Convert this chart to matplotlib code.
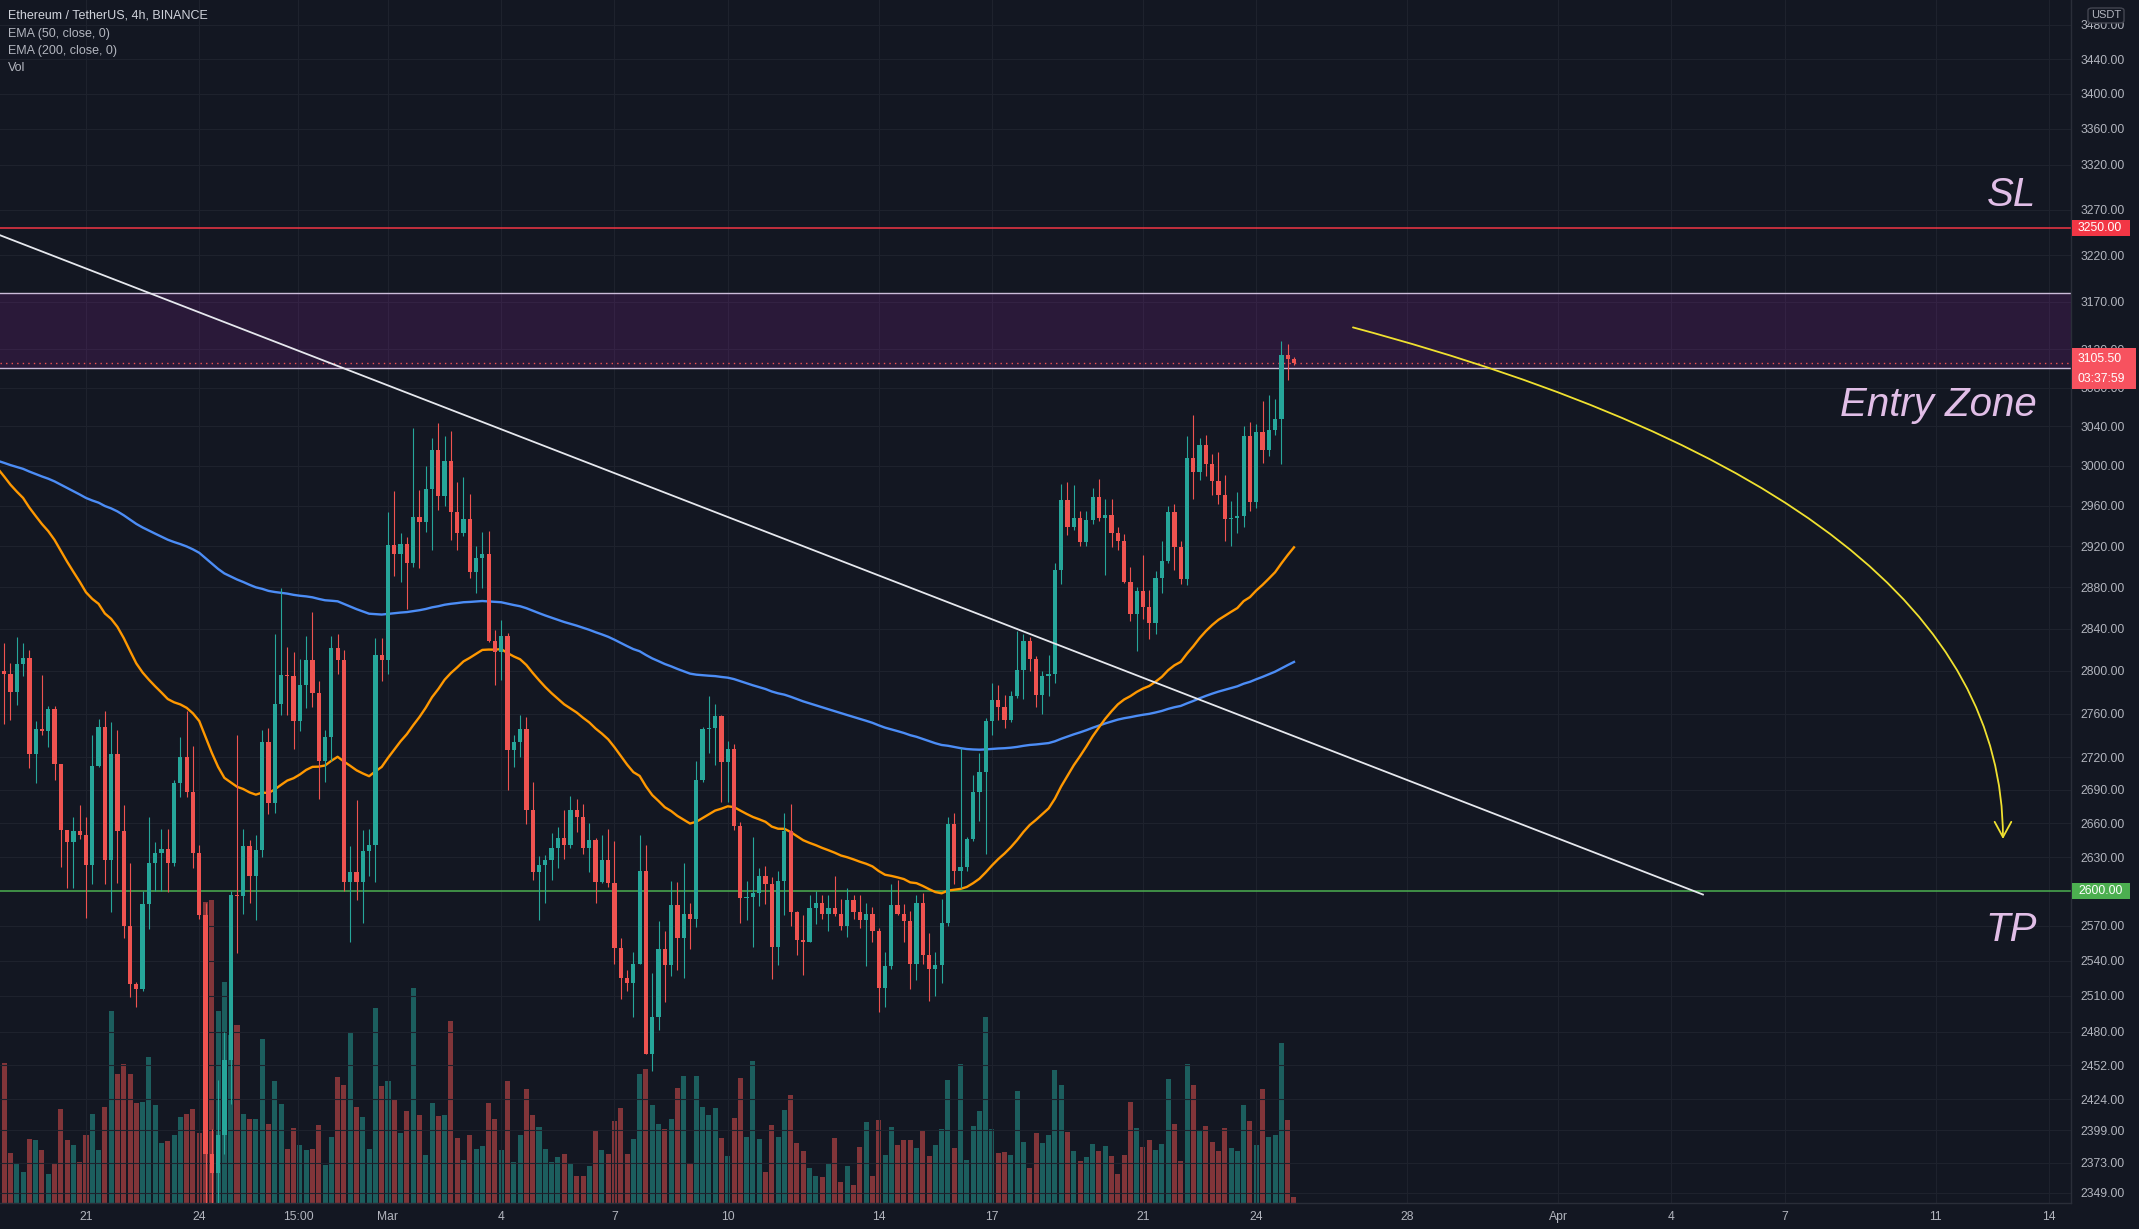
import numpy as np
import pandas as pd
import matplotlib
matplotlib.use("Agg")
import matplotlib.pyplot as plt
import matplotlib.dates as mdates
from matplotlib.patches import Rectangle, FancyBboxPatch
from matplotlib.ticker import FixedLocator, NullLocator, FuncFormatter, NullFormatter

# ── ETHUSDT 4h, Binance ─────────────────────────────────────────────────────
first_bar = "2022-02-18 16:00"
first_open = 2879

close = [
    2800, 2797, 2780, 2806, 2812, 2723, 2746, 2744, 2764, 2714,
    2654, 2643, 2653, 2650, 2623, 2712, 2748, 2627, 2723, 2653,
    2570, 2520, 2516, 2589, 2625, 2634, 2637, 2625, 2696, 2720,
    2688, 2634, 2579, 2380, 2365, 2395, 2456, 2597, 2596, 2640,
    2613, 2636, 2734, 2678, 2769, 2796, 2795, 2753, 2787, 2810,
    2779, 2716, 2738, 2822, 2810, 2608, 2617, 2608, 2635, 2641,
    2815, 2810, 2921, 2912, 2922, 2903, 2949, 2944, 2977, 3016,
    2970, 3005, 2954, 2933, 2947, 2895, 2908, 2912, 2828, 2818,
    2833, 2726, 2734, 2746, 2672, 2617, 2623, 2627, 2638, 2647,
    2641, 2672, 2666, 2638, 2645, 2608, 2627, 2607, 2551, 2525,
    2521, 2537, 2618, 2461, 2492, 2550, 2536, 2588, 2559, 2580,
    2576, 2699, 2746, 2747, 2758, 2715, 2727, 2658, 2594, 2595,
    2598, 2613, 2606, 2552, 2609, 2653, 2582, 2558, 2556, 2585,
    2590, 2580, 2585, 2580, 2570, 2592, 2582, 2575, 2580, 2565,
    2517, 2535, 2588, 2580, 2574, 2537, 2590, 2545, 2533, 2536,
    2572, 2659, 2618, 2621, 2646, 2688, 2706, 2753, 2773, 2766,
    2754, 2776, 2801, 2828, 2811, 2777, 2795, 2797, 2897, 2966,
    2939, 2948, 2924, 2946, 2969, 2948, 2951, 2933, 2925, 2885,
    2854, 2876, 2861, 2845, 2889, 2905, 2954, 2919, 2888, 3008,
    2994, 3021, 3002, 2985, 2971, 2947, 2948, 2950, 3030, 2964,
    3034, 3016, 3036, 3048, 3114, 3110, 3105.5,
]

high = [
    2885, 2826, 2807, 2832, 2826, 2820, 2753, 2796, 2767, 2767,
    2714, 2654, 2666, 2676, 2666, 2740, 2755, 2762, 2752, 2745,
    2676, 2625, 2522, 2600, 2666, 2643, 2655, 2655, 2699, 2738,
    2762, 2730, 2641, 2590, 2400, 2440, 2480, 2600, 2740, 2655,
    2645, 2650, 2745, 2747, 2835, 2879, 2823, 2818, 2811, 2833,
    2856, 2790, 2745, 2833, 2835, 2820, 2640, 2681, 2654, 2655,
    2831, 2831, 2954, 2975, 2933, 2929, 3038, 2976, 3000, 3028,
    3044, 3030, 3035, 2984, 2989, 2972, 2920, 2934, 2935, 2839,
    2848, 2836, 2740, 2759, 2757, 2697, 2631, 2632, 2651, 2657,
    2672, 2685, 2682, 2677, 2660, 2647, 2650, 2655, 2644, 2559,
    2532, 2547, 2650, 2641, 2529, 2574, 2565, 2609, 2608, 2625,
    2590, 2716, 2748, 2776, 2769, 2759, 2735, 2732, 2661, 2609,
    2648, 2620, 2622, 2612, 2618, 2669, 2677, 2583, 2579, 2597,
    2600, 2597, 2597, 2613, 2593, 2603, 2597, 2597, 2590, 2586,
    2568, 2547, 2606, 2610, 2589, 2583, 2597, 2598, 2564, 2547,
    2593, 2666, 2669, 2728, 2648, 2704, 2724, 2756, 2789, 2787,
    2777, 2781, 2838, 2835, 2832, 2814, 2800, 2815, 2903, 2982,
    2984, 2981, 2955, 2955, 2978, 2987, 2967, 2967, 2939, 2932,
    2900, 2880, 2911, 2877, 2896, 2925, 2960, 2962, 2925, 3030,
    3052, 3028, 3031, 3012, 3014, 2991, 2965, 2974, 3040, 3045,
    3042, 3066, 3072, 3068, 3129, 3125, 3112,
]

low = [
    2795, 2750, 2754, 2768, 2795, 2710, 2696, 2740, 2729, 2699,
    2621, 2603, 2603, 2646, 2577, 2606, 2711, 2606, 2582, 2607,
    2559, 2509, 2501, 2514, 2567, 2600, 2600, 2599, 2622, 2684,
    2684, 2620, 2576, 2300, 2320, 2330, 2380, 2420, 2546, 2580,
    2590, 2575, 2630, 2668, 2669, 2759, 2759, 2727, 2744, 2765,
    2766, 2682, 2697, 2716, 2797, 2600, 2556, 2592, 2572, 2613,
    2608, 2790, 2797, 2891, 2885, 2859, 2900, 2899, 2934, 2916,
    2956, 2960, 2926, 2916, 2930, 2889, 2874, 2879, 2827, 2787,
    2791, 2690, 2711, 2720, 2659, 2610, 2575, 2590, 2610, 2620,
    2628, 2638, 2652, 2633, 2617, 2590, 2607, 2604, 2537, 2507,
    2514, 2492, 2537, 2461, 2447, 2481, 2505, 2527, 2532, 2525,
    2550, 2569, 2697, 2724, 2713, 2679, 2679, 2654, 2572, 2575,
    2552, 2587, 2589, 2524, 2536, 2579, 2570, 2545, 2528, 2556,
    2571, 2576, 2565, 2578, 2566, 2560, 2576, 2568, 2535, 2556,
    2496, 2501, 2533, 2579, 2556, 2516, 2523, 2537, 2506, 2510,
    2521, 2570, 2606, 2603, 2618, 2644, 2662, 2633, 2740, 2754,
    2747, 2752, 2775, 2774, 2800, 2766, 2760, 2776, 2789, 2883,
    2931, 2936, 2920, 2920, 2942, 2945, 2892, 2919, 2916, 2884,
    2847, 2819, 2849, 2830, 2835, 2874, 2903, 2897, 2883, 2882,
    2967, 2986, 2990, 2971, 2962, 2925, 2920, 2933, 2939, 2955,
    2958, 3003, 3010, 3031, 3002, 3088, 3103,
]

volume = [
    127, 140, 50, 39, 31, 64, 63, 53, 29, 39,
    94, 63, 58, 41, 68, 89, 53, 96, 192, 129,
    139, 129, 100, 101, 146, 98, 60, 62, 68, 86,
    89, 94, 70, 300, 302, 192, 220, 168, 178, 89,
    84, 84, 164, 79, 122, 99, 54, 75, 58, 53,
    54, 78, 38, 66, 126, 118, 170, 96, 86, 54,
    195, 117, 122, 104, 70, 92, 214, 88, 48, 100,
    87, 88, 182, 65, 43, 68, 54, 57, 100, 84,
    53, 122, 41, 68, 114, 88, 76, 54, 41, 46,
    49, 39, 27, 27, 37, 72, 53, 49, 82, 95,
    49, 64, 129, 134, 98, 79, 74, 84, 115, 127,
    39, 127, 96, 88, 95, 65, 47, 85, 125, 66,
    142, 64, 31, 78, 66, 93, 108, 60, 52, 35,
    27, 26, 39, 65, 21, 37, 18, 56, 81, 27,
    83, 48, 76, 58, 63, 63, 55, 72, 47, 58,
    74, 123, 55, 139, 43, 77, 92, 186, 74, 50,
    51, 48, 112, 61, 35, 70, 60, 68, 133, 118,
    71, 52, 42, 46, 59, 52, 57, 47, 29, 48,
    101, 75, 56, 63, 53, 59, 124, 79, 42, 139,
    118, 73, 77, 61, 52, 75, 55, 52, 98, 82,
    58, 114, 66, 68, 160, 83, 6,
]

# EMA values at the first visible bar (history before it is off-screen)
ema50_start = 2997
ema200_start = 3005

# ── Drawings ─────────────────────────────────────────────────────────────────
sl_price = 3250
tp_price = 2600
zone_low, zone_high = 3100, 3180
trend_start = ("2022-02-18 17:20", 3242)
trend_end = ("2022-04-04 20:00", 2597)
arrow_start = ("2022-03-26 13:30", 3143)
arrow_end = ("2022-04-12 18:45", 2646)
label_date = "2022-04-13 16:00"
countdown = "03:37:59"

price_ticks = [3480, 3440, 3400, 3360, 3320, 3270, 3220, 3170, 3120, 3080,
               3040, 3000, 2960, 2920, 2880, 2840, 2800, 2760, 2720, 2690,
               2660, 2630, 2570, 2540, 2510, 2480, 2452, 2424, 2399, 2373, 2349]
date_ticks = ["2022-02-21", "2022-02-24", "2022-02-26 15:00", "2022-03-01",
              "2022-03-04", "2022-03-07", "2022-03-10", "2022-03-14",
              "2022-03-17", "2022-03-21", "2022-03-24", "2022-03-28",
              "2022-04-01", "2022-04-04", "2022-04-07", "2022-04-11", "2022-04-14"]
date_labels = ["21", "24", "15:00", "Mar", "4", "7", "10", "14", "17", "21",
               "24", "28", "Apr", "4", "7", "11", "14"]

# ── Style ────────────────────────────────────────────────────────────────────
BG = "#131722"
GRID = "#1e222d"
TEXT = "#b2b5be"
UP, DOWN = "#26a69a", "#ef5350"
plt.rcParams["font.family"] = ["Liberation Sans", "DejaVu Sans"]


def ema(values, span, seed):
    a = 2 / (span + 1)
    out = [seed]
    for v in values[1:]:
        out.append(out[-1] + a * (v - out[-1]))
    return np.array(out)


def dnum(s):
    return mdates.date2num(pd.Timestamp(s))


o = np.array([first_open] + close[:-1], dtype=float)
c = np.array(close, dtype=float)
h = np.array(high, dtype=float)
l = np.array(low, dtype=float)
times = pd.date_range(first_bar, periods=len(c), freq="4h")
x = mdates.date2num(times.to_numpy())
up = c >= o
bar_w = 4 / 24

# ── Figure ───────────────────────────────────────────────────────────────────
W, H = 2139, 1229
fig = plt.figure(figsize=(W / 100, H / 100), dpi=100, facecolor=BG)
rect = [0, 26 / H, 2071 / W, 1203 / H]
axv = fig.add_axes(rect, facecolor=BG)
ax = fig.add_axes(rect, sharex=axv)
ax.patch.set_visible(False)

# volume
axv.bar(x, volume, width=bar_w * 0.8, color=np.where(up, UP, DOWN), alpha=0.5, lw=0)
axv.set_ylim(0, 1200)
axv.axis("off")

# grid + axes
ax.set_yscale("log")
ax.set_ylim(2341, 3509)
ax.set_xlim(dnum("2022-02-18 17:20"), dnum("2022-04-14 14:00"))
ax.yaxis.set_major_locator(FixedLocator(price_ticks))
ax.yaxis.set_minor_locator(NullLocator())
ax.yaxis.set_minor_formatter(NullFormatter())
ax.yaxis.set_major_formatter(FuncFormatter(lambda v, p: f"{v:.2f}"))
ax.yaxis.tick_right()
ax.set_xticks([dnum(d) for d in date_ticks])
ax.set_xticklabels(date_labels)
ax.tick_params(axis="y", length=0, pad=7, labelsize=8.7, labelcolor=TEXT)
ax.tick_params(axis="x", length=0, pad=6, labelsize=8.7, labelcolor=TEXT)
ax.grid(True, color=GRID, lw=0.8)
ax.set_axisbelow(True)
for side in ["top", "left"]:
    ax.spines[side].set_visible(False)
for side in ["right", "bottom"]:
    ax.spines[side].set_color("#2a2e39")
    ax.spines[side].set_linewidth(1)

# entry zone
ax.axhspan(zone_low, zone_high, facecolor="#9c27b0", alpha=0.17, lw=0, zorder=1)
ax.axhline(zone_high, color="#cbbcd9", lw=1.0, zorder=2)
ax.axhline(zone_low, color="#cbbcd9", lw=1.0, zorder=2)

# SL / TP
ax.axhline(sl_price, color="#f23645", lw=1.1, zorder=2)
ax.axhline(tp_price, color="#4caf50", lw=1.1, zorder=2)

# EMAs
ax.plot(x, ema(c, 200, ema200_start), color="#4c8df6", lw=1.7, zorder=3)
ax.plot(x, ema(c, 50, ema50_start), color="#ff9800", lw=1.7, zorder=3)

# candles
cols = np.where(up, UP, DOWN)
ax.vlines(x, l, h, colors=cols, lw=0.8, zorder=4)
ax.bar(x, np.maximum(np.abs(c - o), 0.8), bottom=np.minimum(o, c),
       width=bar_w * 0.68, color=cols, lw=0, zorder=5)

# last price line
ax.axhline(c[-1], color=DOWN, lw=1.0, ls=(0, (1, 3)), zorder=3)

# trend line
ax.plot([dnum(trend_start[0]), dnum(trend_end[0])], [trend_start[1], trend_end[1]],
        color="#e6e8ee", lw=1.3, zorder=6)

# projection arrow
ax.annotate("", xy=(dnum(arrow_end[0]), arrow_end[1]),
            xytext=(dnum(arrow_start[0]), arrow_start[1]),
            arrowprops=dict(arrowstyle="->,head_length=0.55,head_width=0.3",
                            color="#f0e130", lw=1.3, shrinkA=0, shrinkB=0,
                            mutation_scale=20,
                            connectionstyle="angle3,angleA=-15,angleB=90"),
            zorder=6)

# text drawings
tx = dnum(label_date)
for txt, price in [("SL", 3274), ("Entry Zone", 3051), ("TP", 2557)]:
    ax.text(tx, price, txt, ha="right", va="baseline", fontsize=29,
            style="italic", color="#e1bee7", zorder=7)

# legend (top-left)
legend = ["Ethereum / TetherUS, 4h, BINANCE", "EMA (50, close, 0)",
          "EMA (200, close, 0)", "Vol"]
for i, (txt, yy) in enumerate(zip(legend, [16, 34, 51, 68])):
    fig.text(8 / W, 1 - yy / H, txt, ha="left", va="center", fontsize=9,
             color="#d1d4dc" if i == 0 else TEXT)

# price tags on the right scale
to_fig = fig.transFigure.inverted()


def fig_y(price):
    return to_fig.transform(ax.transData.transform((x[0], price)))[1]


def tag(price, color, lines, width=58, above=8, hpx=16, first=8, step=20):
    top = fig_y(price) + above / H
    fig.add_artist(Rectangle((2072 / W, top - hpx / H), width / W, hpx / H,
                             transform=fig.transFigure, facecolor=color,
                             edgecolor="none", zorder=5))
    for j, t in enumerate(lines):
        fig.text(2078 / W, top - (first + step * j) / H, t, ha="left",
                 va="center", fontsize=8.7, color="white", zorder=6)


tag(sl_price, "#f23645", [f"{sl_price:.2f}"])
tag(tp_price, "#4caf50", [f"{tp_price:.2f}"])
tag(c[-1], "#f7525f", [f"{c[-1]:.2f}", countdown], width=64,
    above=15, hpx=41, first=11, step=20)

# currency badge
fig.add_artist(FancyBboxPatch((2088 / W, 1 - 23 / H), 36 / W, 15 / H,
                              boxstyle="round,pad=0,rounding_size=0.002",
                              transform=fig.transFigure, facecolor=BG,
                              edgecolor="#434651", lw=1, zorder=5))
fig.text(2106 / W, 1 - 15.5 / H, "USDT", ha="center", va="center",
         fontsize=8, color=TEXT, zorder=6)

fig.savefig("out.png", dpi=100, facecolor=BG)
